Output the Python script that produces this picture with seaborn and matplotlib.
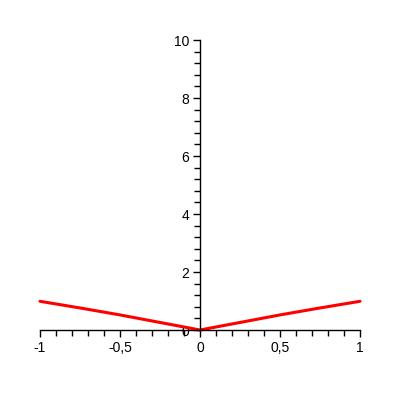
import numpy as np
import pandas as pd
import matplotlib
matplotlib.use("Agg")
import matplotlib.pyplot as plt
import matplotlib.ticker as mticker
import seaborn as sns

# -----------------------------
# Dados
x_vals = [-1.0, -0.75, -0.5, -0.25, 0.0, 0.25, 0.5, 0.75, 1.0]
y_vals = [0.99, 0.76, 0.52, 0.26, 0.0, 0.26, 0.52, 0.76, 0.99]
x_ticks = [-1, -0.5, 0, 0.5, 1]
y_ticks = [0, 2, 4, 6, 8, 10]

df = pd.DataFrame({'x': x_vals, 'y': y_vals})

# -----------------------------
sns.set_style("white")
plt.rcParams['font.family'] = ['Liberation Sans', 'DejaVu Sans']

fig = plt.figure(figsize=(4, 4), dpi=100)
ax = fig.add_axes([0.1, 0.175, 0.8, 0.725])

sns.lineplot(data=df, x='x', y='y', color='red', linewidth=2.2, ax=ax, clip_on=False)

ax.set_xlim(-1, 1)
ax.set_ylim(0, 10)

# eixos cruzando na origem
ax.spines['left'].set_position(('data', 0))
ax.spines['bottom'].set_position(('data', 0))
ax.spines['top'].set_visible(False)
ax.spines['right'].set_visible(False)
for s in ['left', 'bottom']:
    ax.spines[s].set_color('black')
    ax.spines[s].set_linewidth(1)

ax.xaxis.set_major_locator(mticker.FixedLocator(x_ticks))
ax.xaxis.set_minor_locator(mticker.FixedLocator(np.round(np.arange(-1, 1.01, 0.1), 2)))
ax.yaxis.set_major_locator(mticker.FixedLocator(y_ticks))
ax.yaxis.set_minor_locator(mticker.FixedLocator(np.round(np.arange(0, 10.01, 0.4), 2)))

virgula = mticker.FuncFormatter(lambda v, p: ('%g' % v).replace('.', ','))
ax.xaxis.set_major_formatter(virgula)
ax.yaxis.set_major_formatter(virgula)

ax.tick_params(which='both', direction='out', color='black', width=1,
               labelsize=10, labelcolor='black', left=True, bottom=True)
ax.tick_params(which='major', length=5, pad=3)
ax.tick_params(which='minor', length=4)

ax.set_xlabel('')
ax.set_ylabel('')

fig.savefig('out.png', dpi=100)
